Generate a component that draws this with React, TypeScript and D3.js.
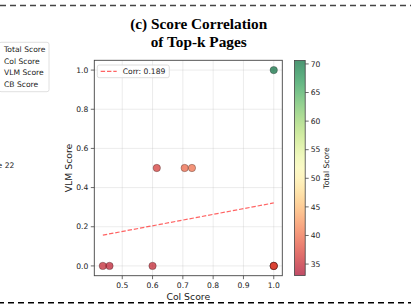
import * as d3 from "d3";

// scatter data: one entry per top-k page
const colScore = [0.436, 0.458, 0.6, 0.614, 0.706, 0.73, 1.0, 1.0, 1.0, 1.0];
const vlmScore = [0, 0, 0, 0.5, 0.5, 0.5, 1.0, 0, 0, 0];
const totalScore = [35, 34.5, 35, 36.5, 39.5, 40, 70.6, 33.0, 37.5, 38];

const xTicks = [0.5, 0.6, 0.7, 0.8, 0.9, 1.0];
const yTicks = [0.0, 0.2, 0.4, 0.6, 0.8, 1.0];
const cbTicks = [35, 40, 45, 50, 55, 60, 65, 70];
const legendItems = ["Total Score", "Col Score", "VLM Score", "CB Score"];
const corrLabel = "Corr: 0.189";

const W = 411;
const H = 304;
const plot = { left: 94.3, right: 282.3, top: 60.3, bottom: 275.7 };
const cb = { left: 294.5, right: 305.2, top: 60.5, bottom: 275.5 };
const sans = "DejaVu Sans, sans-serif";

export default function App() {
  const [xmin, xmax] = d3.extent(colScore) as [number, number];
  const pad = (xmax - xmin) * 0.05;
  const x = d3.scaleLinear().domain([xmin - pad, xmax + pad]).range([plot.left, plot.right]);
  const y = d3.scaleLinear().domain([-0.05, 1.05]).range([plot.bottom, plot.top]);

  const [cmin, cmax] = d3.extent(totalScore) as [number, number];
  const color = d3.scaleSequential(d3.interpolateRdYlGn).domain([cmin, cmax]);
  const cbY = d3.scaleLinear().domain([cmin, cmax]).range([cb.bottom, cb.top]);

  // least squares fit of vlm on col
  const mx = d3.mean(colScore)!;
  const my = d3.mean(vlmScore)!;
  const sxy = d3.sum(colScore, (v, i) => (v - mx) * (vlmScore[i] - my));
  const sxx = d3.sum(colScore, (v) => (v - mx) ** 2);
  const slope = sxy / sxx;
  const icpt = my - slope * mx;

  const stops = d3.range(0, 1.0001, 0.05);

  return (
    <svg
      width={W}
      height={H}
      style={{ position: "absolute", left: 0, top: 0, background: "#fff" }}
    >
      <defs>
        <linearGradient id="cbgrad" x1="0" y1="1" x2="0" y2="0">
          {stops.map((t) => (
            <stop key={t} offset={t} stopColor={d3.interpolateRdYlGn(t)} stopOpacity={0.7} />
          ))}
        </linearGradient>
        <clipPath id="plotclip">
          <rect x={plot.left} y={plot.top} width={plot.right - plot.left} height={plot.bottom - plot.top} />
        </clipPath>
      </defs>

      {/* panel separators */}
      <line x1={0} x2={W} y1={5.5} y2={5.5} stroke="#444" strokeWidth={1.6} strokeDasharray="6 4" />
      <line x1={0} x2={W} y1={302.8} y2={302.8} stroke="#000" strokeWidth={1.6} strokeDasharray="6 4" strokeDashoffset={2} />

      {/* bits of the neighbouring panel */}
      <rect x={-1} y={42.3} width={50} height={49.4} rx={2} fill="#fff" stroke="#d8d8d8" strokeWidth={0.8} />
      {legendItems.map((t, i) => (
        <text key={t} x={4} y={52 + i * 11.6} fontSize={7.6} fontFamily={sans} fill="#222">
          {t}
        </text>
      ))}
      <text x={14.3} y={168} textAnchor="end" fontSize={7.6} fontFamily={sans} fill="#222">
        e 22
      </text>

      {/* title */}
      <text x={198.7} y={29} textAnchor="middle" fontSize={15.3} fontWeight="bold" fontFamily="Liberation Serif, Times New Roman, serif" fill="#000">
        (c) Score Correlation
      </text>
      <text x={198.7} y={46.5} textAnchor="middle" fontSize={15.3} fontWeight="bold" fontFamily="Liberation Serif, Times New Roman, serif" fill="#000">
        of Top-k Pages
      </text>

      {/* grid */}
      {xTicks.map((t) => (
        <line key={"gx" + t} x1={x(t)} x2={x(t)} y1={plot.top} y2={plot.bottom} stroke="#b0b0b0" strokeOpacity={0.3} strokeWidth={0.8} />
      ))}
      {yTicks.map((t) => (
        <line key={"gy" + t} x1={plot.left} x2={plot.right} y1={y(t)} y2={y(t)} stroke="#b0b0b0" strokeOpacity={0.3} strokeWidth={0.8} />
      ))}

      {/* points */}
      <g clipPath="url(#plotclip)">
        {colScore.map((c, i) => (
          <circle
            key={i}
            cx={x(c)}
            cy={y(vlmScore[i])}
            r={3.7}
            fill={color(totalScore[i])}
            fillOpacity={0.7}
            stroke="#000"
            strokeOpacity={0.55}
            strokeWidth={0.5}
          />
        ))}
        <line
          x1={x(xmin)}
          x2={x(xmax)}
          y1={y(icpt + slope * xmin)}
          y2={y(icpt + slope * xmax)}
          stroke="#ff3030"
          strokeOpacity={0.75}
          strokeWidth={1.2}
          strokeDasharray="4.4 1.9"
        />
      </g>

      {/* inner legend */}
      <rect x={97.3} y={65} width={72} height={12.7} rx={2} fill="#fff" fillOpacity={0.8} stroke="#d5d5d5" strokeWidth={0.8} />
      <line x1={100.7} x2={116.7} y1={71.3} y2={71.3} stroke="#ff3030" strokeOpacity={0.75} strokeWidth={1.2} strokeDasharray="4.4 1.9" />
      <text x={122.7} y={74} fontSize={7.6} fontFamily={sans} fill="#222">
        {corrLabel}
      </text>

      {/* spines */}
      <rect x={plot.left} y={plot.top} width={plot.right - plot.left} height={plot.bottom - plot.top} fill="none" stroke="#444" strokeWidth={0.9} />

      {/* ticks */}
      {xTicks.map((t) => (
        <g key={"tx" + t}>
          <line x1={x(t)} x2={x(t)} y1={plot.bottom} y2={plot.bottom + 3.5} stroke="#444" strokeWidth={0.8} />
          <text x={x(t)} y={plot.bottom + 12} textAnchor="middle" fontSize={7.6} fontFamily={sans} fill="#222">
            {t.toFixed(1)}
          </text>
        </g>
      ))}
      {yTicks.map((t) => (
        <g key={"ty" + t}>
          <line x1={plot.left - 3.5} x2={plot.left} y1={y(t)} y2={y(t)} stroke="#444" strokeWidth={0.8} />
          <text x={plot.left - 6} y={y(t) + 2.7} textAnchor="end" fontSize={7.6} fontFamily={sans} fill="#222">
            {t.toFixed(1)}
          </text>
        </g>
      ))}

      <text x={(plot.left + plot.right) / 2} y={299.5} textAnchor="middle" fontSize={9.3} fontFamily={sans} fill="#222">
        Col Score
      </text>
      <text
        transform={`translate(71.5,${(plot.top + plot.bottom) / 2}) rotate(-90)`}
        textAnchor="middle"
        fontSize={9.3}
        fontFamily={sans}
        fill="#222"
      >
        VLM Score
      </text>

      {/* colorbar */}
      <rect x={cb.left} y={cb.top} width={cb.right - cb.left} height={cb.bottom - cb.top} fill="url(#cbgrad)" stroke="#444" strokeWidth={0.8} />
      {cbTicks.map((t) => (
        <g key={"cb" + t}>
          <line x1={cb.right} x2={cb.right + 3.5} y1={cbY(t)} y2={cbY(t)} stroke="#444" strokeWidth={0.8} />
          <text x={cb.right + 5.5} y={cbY(t) + 2.7} fontSize={7.6} fontFamily={sans} fill="#222">
            {t}
          </text>
        </g>
      ))}
      <text
        transform={`translate(329,${(cb.top + cb.bottom) / 2}) rotate(-90)`}
        textAnchor="middle"
        fontSize={7.6}
        fontFamily={sans}
        fill="#222"
      >
        Total Score
      </text>
    </svg>
  );
}
